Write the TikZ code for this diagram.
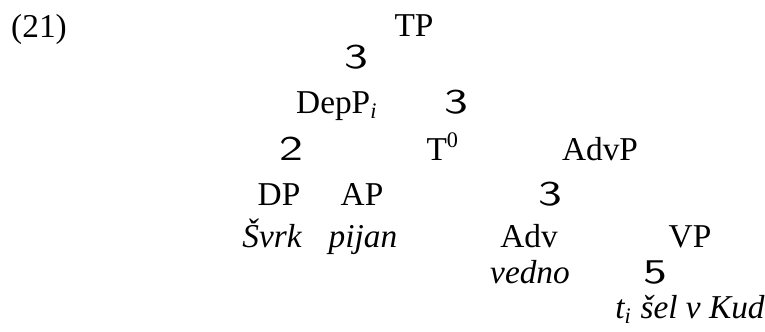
\documentclass[tikz,border=0pt]{standalone}
\usepackage{fontspec}
\usepackage{graphicx}
\setmainfont{Liberation Serif}
\usetikzlibrary{positioning}

\newcommand{\brglyph}[1]{{\sffamily\fontsize{12.5}{14}\selectfont\scalebox{1.4}[1]{#1}}}

\begin{document}
\begin{tikzpicture}[x=0.36pt,y=-0.36pt,
  cat/.style={anchor=base,inner sep=0pt,font=\fontsize{12}{14}\selectfont},
  word/.style={cat,font=\fontsize{12}{14}\selectfont\itshape},
  branch/.style={anchor=base,inner sep=0pt}]
  \useasboundingbox (0,0) rectangle (765,331);
  \node[cat] (ex) at (39,37) {(21)};
  \node[cat] (tp) at (414,36) {TP};
  \node[branch] (b1) at (356,68) {\brglyph{3}};
  \node[cat] (depp) at (337,113) {DepP\textsubscript{\textit{i}}};
  \node[branch] (b2) at (456,113) {\brglyph{3}};
  \node[branch] (b3) at (291,160) {\brglyph{2}};
  \node[cat] (t0) at (443,160) {T\textsuperscript{0}};
  \node[cat] (advp) at (600,160) {AdvP};
  \node[cat] (dp) at (279,205) {DP};
  \node[cat] (ap) at (362,205) {AP};
  \node[branch] (b4) at (550,205) {\brglyph{3}};
  \node[word] (svrk) at (272,247) {Švrk};
  \node[word] (pijan) at (363,247) {pijan};
  \node[cat] (adv) at (529,247) {Adv};
  \node[cat] (vp) at (690,247) {VP};
  \node[word] (vedno) at (530,283) {vedno};
  \node[branch] (b5) at (655,283) {\brglyph{5}};
  \node[word] (trace) at (690,318) {t\textsubscript{i} šel v Kud};
\end{tikzpicture}
\end{document}
